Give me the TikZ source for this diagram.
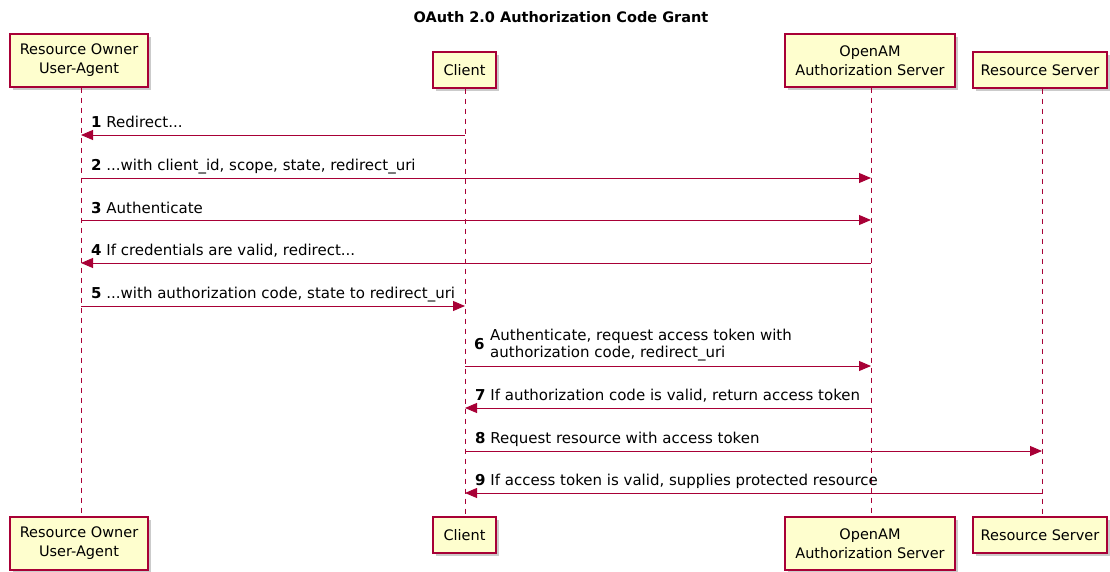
\documentclass[tikz,border=0pt]{standalone}
\usepackage{fontspec}
\setmainfont{DejaVu Sans}
\usetikzlibrary{arrows.meta,shadows}
\definecolor{puml}{HTML}{A80036}
\definecolor{pfill}{HTML}{FEFECE}
\tikzset{
  actor/.style={draw=puml, fill=pfill, line width=1.1pt, align=center, inner sep=0pt,
    font=\fontsize{14.5}{19}\selectfont,
    drop shadow={fill=black!45, opacity=0.45, shadow xshift=3pt, shadow yshift=-3pt}},
  life/.style={draw=puml, line width=1pt, dash pattern=on 5pt off 5pt},
  msg/.style={draw=puml, line width=0.9pt, -{Triangle[length=12pt,width=10pt]}},
  lbl/.style={anchor=base west, inner sep=0pt, font=\fontsize{15}{17}\selectfont}
}
\begin{document}
\begin{tikzpicture}[x=1pt,y=-1pt]
\useasboundingbox (0,0) rectangle (1110,571);
\node[font=\bfseries\fontsize{14.5}{17}\selectfont] (title) at (561,17) {OAuth 2.0 Authorization Code Grant};
% top participants
\node[actor, minimum width=138pt, minimum height=53pt] (ro) at (79,60.5) {Resource Owner\\User-Agent};
\node[actor, minimum width=63pt, minimum height=36pt] (cl) at (464.5,70) {Client};
\node[actor, minimum width=170pt, minimum height=53pt] (as) at (870,60.5) {OpenAM\\Authorization Server};
\node[actor, minimum width=134pt, minimum height=36pt] (rs) at (1040,70) {Resource Server};
% bottom participants
\node[actor, minimum width=138pt, minimum height=53pt] (rob) at (79,543.5) {Resource Owner\\User-Agent};
\node[actor, minimum width=63pt, minimum height=36pt] (clb) at (464.5,535) {Client};
\node[actor, minimum width=170pt, minimum height=53pt] (asb) at (870,543.5) {OpenAM\\Authorization Server};
\node[actor, minimum width=134pt, minimum height=36pt] (rsb) at (1040,535) {Resource Server};
% lifeline coordinates
\coordinate (lro) at (81,0);
\coordinate (lcl) at (465,0);
\coordinate (las) at (871,0);
\coordinate (lrs) at (1042,0);
\draw[life] (lro|-ro.south) -- (lro|-rob.north);
\draw[life] (lcl|-cl.south) -- (lcl|-clb.north);
\draw[life] (las|-as.south) -- (las|-asb.north);
\draw[life] (lrs|-rs.south) -- (lrs|-rsb.north);
% message rows
\coordinate (m1) at (0,135);
\coordinate (m2) at (0,178);
\coordinate (m3) at (0,220);
\coordinate (m4) at (0,263);
\coordinate (m5) at (0,306);
\coordinate (m6) at (0,366);
\coordinate (m7) at (0,408);
\coordinate (m8) at (0,451);
\coordinate (m9) at (0,493);
\draw[msg] (lcl|-m1) -- (lro|-m1);
\node[lbl] (t1) at (91,127) {\textbf{1} Redirect...};
\draw[msg] (lro|-m2) -- (las|-m2);
\node[lbl] (t2) at (91,170) {\textbf{2} ...with client\_id, scope, state, redirect\_uri};
\draw[msg] (lro|-m3) -- (las|-m3);
\node[lbl] (t3) at (91,213) {\textbf{3} Authenticate};
\draw[msg] (las|-m4) -- (lro|-m4);
\node[lbl] (t4) at (91,255) {\textbf{4} If credentials are valid, redirect...};
\draw[msg] (lro|-m5) -- (lcl|-m5);
\node[lbl] (t5) at (91,298) {\textbf{5} ...with authorization code, state to redirect\_uri};
\draw[msg] (lcl|-m6) -- (las|-m6);
\node[lbl] (t6n) at (474,349) {\textbf{6}};
\node[lbl] (t6a) at (490,340) {Authenticate, request access token with};
\node[lbl] (t6b) at (490,357) {authorization code, redirect\_uri};
\draw[msg] (las|-m7) -- (lcl|-m7);
\node[lbl] (t7) at (475,400) {\textbf{7} If authorization code is valid, return access token};
\draw[msg] (lcl|-m8) -- (lrs|-m8);
\node[lbl] (t8) at (475,443) {\textbf{8} Request resource with access token};
\draw[msg] (lrs|-m9) -- (lcl|-m9);
\node[lbl] (t9) at (475,485) {\textbf{9} If access token is valid, supplies protected resource};
\end{tikzpicture}
\end{document}
